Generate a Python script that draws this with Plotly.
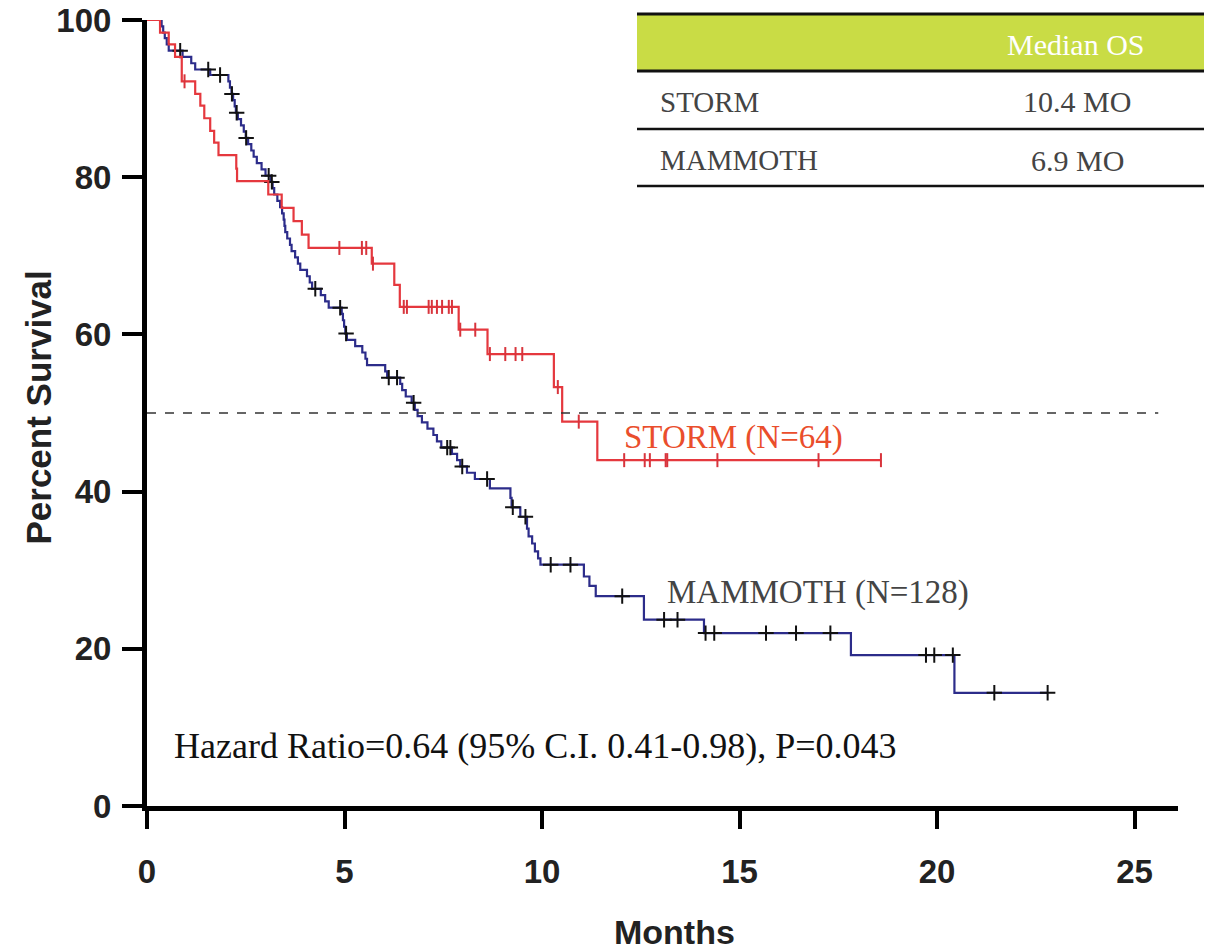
import numpy as np
import plotly.graph_objects as go

# ---------------- data ----------------
storm_t = [0, 0.33, 0.55, 0.71, 0.88, 1.22, 1.35, 1.45, 1.60, 1.70, 1.81, 2.26, 2.28,
           3.07, 3.41, 3.71, 3.92, 4.09, 5.69, 6.26, 6.40, 7.89, 8.62, 10.30, 10.51,
           11.40, 18.58]
storm_s = [100, 98.4, 96.9, 95.3, 92.2, 90.6, 89.1, 87.5, 85.9, 84.4, 82.8, 81.1, 79.5,
           77.8, 76.1, 74.4, 72.7, 71.0, 69.0, 66.3, 63.5, 60.6, 57.5, 53.3, 48.9,
           44.0, 44.0]
storm_cens = [0.95, 4.87, 5.44, 5.55, 5.72, 6.50, 6.58, 7.13, 7.21, 7.34, 7.47, 7.64,
              7.72, 7.93, 8.31, 8.68, 9.07, 9.33, 9.50, 10.40, 10.93, 12.08, 12.60,
              12.73, 13.13, 13.17, 14.44, 17.0, 18.58]

mam_t = [0, 0.37, 0.41, 0.45, 0.50, 0.55, 0.90, 1.12, 1.22, 1.60, 2.06, 2.10, 2.14,
         2.18, 2.22, 2.25, 2.30, 2.38, 2.45, 2.50, 2.56, 2.64, 2.70, 2.78, 2.90, 3.00,
         3.13, 3.18, 3.22, 3.30, 3.37, 3.42, 3.46, 3.48, 3.50, 3.55, 3.62, 3.66, 3.75,
         3.82, 3.88, 4.05, 4.12, 4.18, 4.40, 4.51, 4.60, 4.93, 4.96, 4.99, 5.02, 5.06,
         5.27, 5.45, 5.53, 5.57, 6.03, 6.08, 6.41, 6.46, 6.55, 6.70, 6.78, 6.85, 6.96,
         7.10, 7.25, 7.34, 7.45, 7.72, 7.85, 7.93, 8.10, 8.30, 8.68, 9.20, 9.23, 9.45,
         9.62, 9.66, 9.75, 9.82, 9.90, 9.96, 11.06, 11.20, 11.36, 12.58, 14.10, 17.82,
         20.44, 22.80]
mam_s = [100, 99.2, 98.4, 97.7, 96.9, 96.1, 95.3, 94.5, 93.7, 93.0, 92.2, 91.4, 90.6,
         89.8, 89.0, 88.2, 87.4, 86.6, 85.8, 85.0, 84.2, 83.4, 82.6, 81.8, 81.0, 80.2,
         79.4, 78.6, 77.8, 77.0, 76.2, 75.4, 74.6, 73.8, 73.0, 72.2, 71.4, 70.6, 69.8,
         69.0, 68.2, 67.4, 66.6, 65.8, 65.0, 64.2, 63.4, 62.6, 61.8, 61.0, 60.1, 59.3,
         58.5, 57.7, 56.9, 56.1, 55.3, 54.5, 53.7, 52.9, 52.1, 51.3, 50.4, 49.6, 48.8,
         48.0, 47.2, 46.4, 45.6, 44.8, 44.0, 43.2, 42.4, 41.6, 40.4, 39.2, 38.0, 36.8,
         35.3, 34.3, 33.4, 32.4, 31.5, 30.7, 29.2, 28.0, 26.7, 23.7, 22.0, 19.2,
         14.4, 14.4]
mam_cens = [0.84, 1.55, 1.85, 2.15, 2.27, 2.51, 3.08, 3.16, 4.26, 4.89, 5.04, 6.12,
            6.33, 6.75, 7.60, 7.68, 7.98, 8.61, 9.26, 9.58, 10.22, 10.72, 12.03, 13.09,
            13.43, 14.14, 14.36, 15.67, 16.43, 17.30, 19.72, 19.93, 20.40, 21.45, 22.80]

x_ticks = [0, 5, 10, 15, 20, 25]
y_ticks = [0, 20, 40, 60, 80, 100]

table_groups = ["STORM", "MAMMOTH"]
table_median = ["10.4 MO", "6.9 MO"]

storm_label = "STORM (N=64)"
mam_label = "MAMMOTH (N=128)"
hr_text = "Hazard Ratio=0.64 (95% C.I. 0.41-0.98), P=0.043"


def step_at(t, s, c):
    t = np.asarray(t)
    s = np.asarray(s)
    idx = np.searchsorted(t, np.asarray(c), side="right") - 1
    return s[idx]


RED = "#e5383e"
NAVY = "#2c2c8a"

fig = go.Figure()

# median reference line
fig.add_shape(type="line", x0=0, x1=25.6, y0=50, y1=50, xref="x", yref="y",
              line=dict(color="#333333", width=1.5, dash="dash"))

fig.add_trace(go.Scatter(x=mam_t, y=mam_s, mode="lines", line_shape="hv",
                         line=dict(color=NAVY, width=2.2), cliponaxis=False,
                         showlegend=False))
fig.add_trace(go.Scatter(x=mam_cens, y=step_at(mam_t, mam_s, mam_cens), mode="markers",
                         marker=dict(symbol="cross-thin", size=11,
                                     line=dict(color="#111111", width=2)),
                         cliponaxis=False, showlegend=False))
fig.add_trace(go.Scatter(x=storm_t, y=storm_s, mode="lines", line_shape="hv",
                         line=dict(color=RED, width=2.2), cliponaxis=False,
                         showlegend=False))
fig.add_trace(go.Scatter(x=storm_cens, y=step_at(storm_t, storm_s, storm_cens),
                         mode="markers",
                         marker=dict(symbol="line-ns", size=10,
                                     line=dict(color="#d8343c", width=2)),
                         cliponaxis=False, showlegend=False))

serif = "Liberation Serif, Times New Roman, serif"
sans = "Liberation Sans, Arial, sans-serif"

annotations = [
    dict(x=12.03, y=46.9, xref="x", yref="y", text=storm_label, showarrow=False,
         xanchor="left", yanchor="middle", font=dict(family=serif, size=33, color="#ea4e2c")),
    dict(x=13.12, y=27.2, xref="x", yref="y", text=mam_label, showarrow=False,
         xanchor="left", yanchor="middle", font=dict(family=serif, size=33, color="#444444")),
    dict(x=0.63, y=7.6, xref="x", yref="y", text=hr_text, showarrow=False,
         xanchor="left", yanchor="middle", font=dict(family=serif, size=36, color="#111111")),
    dict(x=-0.1057, y=0.507, xref="paper", yref="paper", text="<b>Percent Survival</b>",
         showarrow=False, textangle=-90, xanchor="center", yanchor="middle",
         font=dict(family=sans, size=35, color="#222222")),
    dict(x=0.512, y=-0.16, xref="paper", yref="paper", text="<b>Months</b>",
         showarrow=False, xanchor="center", yanchor="middle",
         font=dict(family=sans, size=34, color="#222222")),
]

# table (paper coordinates)
def px2px(px):
    return (px - 147) / 1031.0

def py2py(py):
    return (806 - py) / 786.0

tx0, tx1 = px2px(637), px2px(1204)
fig.add_shape(type="rect", xref="paper", yref="paper", x0=tx0, x1=tx1,
              y0=py2py(71), y1=py2py(14), fillcolor="#c9dc45", line=dict(width=0), layer="below")
for py_, w in [(14, 3), (71, 3), (129, 2.5), (186, 2.5)]:
    fig.add_shape(type="line", xref="paper", yref="paper", x0=tx0, x1=tx1,
                  y0=py2py(py_), y1=py2py(py_), line=dict(color="#111111", width=w))

annotations.append(dict(x=px2px(1076), y=py2py(44), xref="paper", yref="paper",
                        text="Median OS", showarrow=False, xanchor="center", yanchor="middle",
                        font=dict(family=serif, size=30, color="#ffffff")))
for i, (g, m) in enumerate(zip(table_groups, table_median)):
    yy = py2py(102 + 58 * i)
    annotations.append(dict(x=px2px(658), y=yy, xref="paper", yref="paper", text=g,
                            showarrow=False, xanchor="left", yanchor="middle",
                            font=dict(family=serif, size=29, color="#444444")))
    annotations.append(dict(x=px2px(1077), y=yy, xref="paper", yref="paper", text=m,
                            showarrow=False, xanchor="center", yanchor="middle",
                            font=dict(family=serif, size=30, color="#444444")))

fig.update_layout(
    width=1211, height=950,
    margin=dict(l=147, r=33, t=20, b=144, autoexpand=False),
    paper_bgcolor="white", plot_bgcolor="white",
    annotations=annotations,
    xaxis=dict(range=[0, 26.1], tickvals=x_ticks, ticks="outside", ticklen=18, tickwidth=4,
               tickcolor="black", showline=True, linewidth=5, linecolor="black",
               showgrid=False, zeroline=False, ticklabelstandoff=14, automargin=False,
               tickfont=dict(family=sans, size=33, color="#222222", weight="bold")),
    yaxis=dict(range=[0, 100], tickvals=y_ticks, ticks="outside", ticklen=20, tickwidth=4,
               tickcolor="black", showline=True, linewidth=5, linecolor="black",
               showgrid=False, zeroline=False, ticklabelstandoff=4, automargin=False,
               tickfont=dict(family=sans, size=33, color="#222222", weight="bold")),
)

fig.write_html("out.html")
